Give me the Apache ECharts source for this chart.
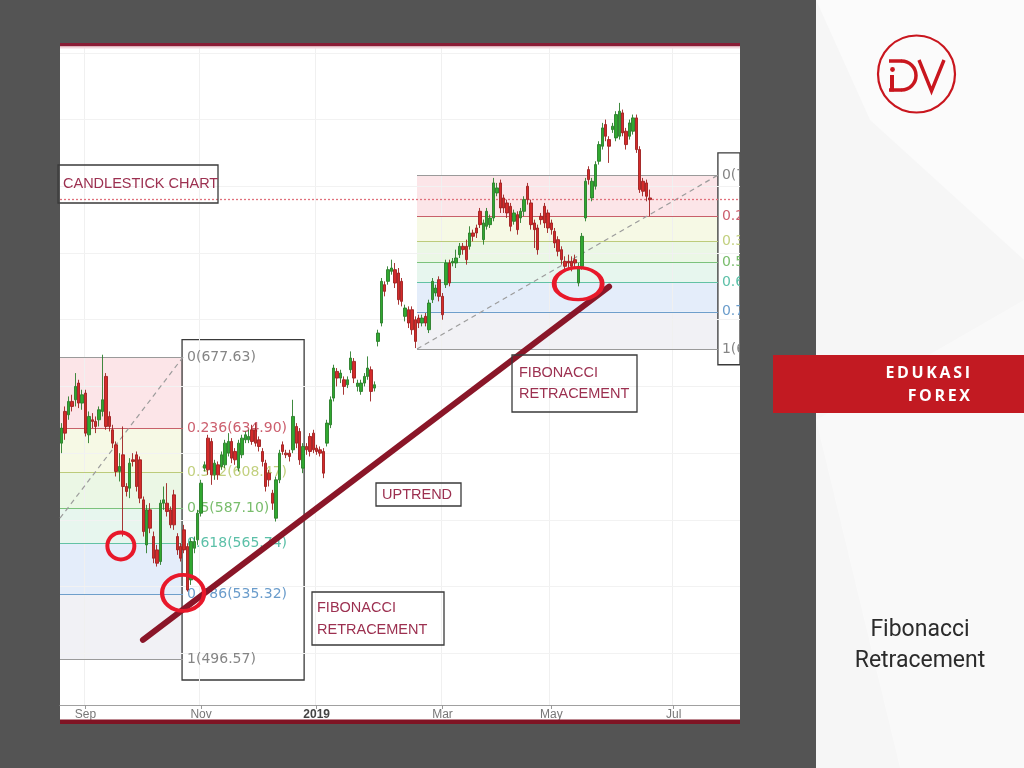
<!DOCTYPE html>
<html><head><meta charset="utf-8">
<script src="https://cdn.jsdelivr.net/npm/echarts@6/dist/echarts.min.js"></script>
<style>html,body{margin:0;padding:0;background:#545454}#c{width:1024px;height:768px}</style>
</head><body><div id="c"></div>
<script>
// ---- data ----
const monthLabels = ['Sep','Nov','2019','Mar','May','Jul'];
const monthIndex = [7, 41, 75, 112, 144, 180];
const slotCount = 200;

const candleOpen = [626,645,643,651,652,662,650,656,631,640,639,640,645,666,642,634,625,609,619,600,599,616,619,616,592,565,586,570,562,555,590,590,586,595,570,564,574,564,544,563,568,584,611,629,627,607,613,612,613,620,627,621,611,619,628,628,634,634,628,621,614,608,596,581,604,625,620,620,622,636,633,611,624,630,632,623,622,621,626,637,653,669,665,664,661,670,675,660,657,662,666,670,659,687,698,721,723,729,730,728,723,702,706,706,700,701,698,702,694,712,716,724,714,721,734,734,734,739,744,744,744,752,755,765,748,756,757,761,776,782,773,770,768,759,763,761,765,780,770,758,755,762,768,764,758,753,748,742,735,735,735,736,722,732,761,790,773,780,795,804,817,808,814,809,810,824,813,810,813,821,802,783,782,773];
const candleClose = [635,632,651,648,660,650,655,632,642,639,636,646,652,636,636,626,609,612,600,597,614,615,600,593,573,586,575,557,554,590,592,585,577,577,562,557,562,538,567,567,584,602,613,610,607,614,607,619,626,627,617,616,626,629,631,630,627,626,624,615,600,604,590,604,620,621,619,618,642,626,616,624,622,621,622,621,620,608,638,652,671,665,668,660,664,677,665,662,662,666,671,657,661,692,723,717,730,731,722,712,711,707,698,694,687,698,701,698,710,723,719,714,703,734,722,735,737,744,742,736,752,750,752,757,758,765,761,782,779,767,767,764,756,764,754,765,772,772,757,754,742,760,758,755,754,746,741,736,732,734,732,734,732,750,783,784,783,793,805,815,810,804,816,823,825,812,805,818,821,802,778,777,774,772];
const candleLow = [620,628,640,645,648,647,646,630,626,635,632,636,642,634,633,623,606,603,570,594,593,612,597,590,570,560,572,554,552,553,586,582,575,574,559,555,560,537,541,560,565,582,609,607,601,604,604,610,611,618,614,613,609,617,626,626,625,624,621,612,597,600,586,579,602,619,617,615,620,623,613,608,619,618,620,619,618,605,624,635,651,660,662,655,659,668,662,657,655,660,664,651,657,684,696,714,721,727,719,709,708,699,695,691,683,695,696,696,692,710,714,711,700,719,720,732,731,737,739,733,742,747,749,755,745,754,755,759,774,764,764,761,753,757,751,758,762,769,754,743,739,757,755,752,751,743,738,733,729,731,729,731,720,730,759,781,771,778,793,802,807,794,812,807,808,810,802,808,811,800,776,774,771,762];
const candleHigh = [638,648,654,655,668,664,658,658,645,644,642,648,679,668,645,637,627,620,636,602,617,620,621,618,594,589,590,573,565,592,600,602,588,598,572,566,577,566,569,570,586,604,615,631,629,616,615,621,628,632,629,623,628,631,633,634,637,638,630,623,616,610,598,606,622,627,622,622,652,638,635,626,626,632,634,625,624,623,640,654,673,671,670,666,666,681,677,664,664,668,678,672,663,694,725,723,732,736,734,731,725,709,708,708,702,703,703,704,712,725,721,726,716,736,736,737,742,746,746,748,756,754,757,767,760,767,763,785,782,784,775,772,770,766,765,767,774,782,772,760,757,764,770,766,760,755,750,744,738,739,738,739,734,752,785,792,785,795,807,818,820,810,818,825,830,826,815,820,823,823,804,785,784,778];

const fibRatios = ['0','0.236','0.382','0.5','0.618','0.786','1'];
const fib1Prices = [677.63,634.90,608.47,587.10,565.74,535.32,496.57];
const fib2Prices = [786.70,762.09,746.86,734.55,722.24,704.72,682.40];
const fib1Diagonal = [[-0.5, 581], [35.7, 677.63]];
const fib2Diagonal = [[104.5, 682.40], [193.0, 786.70]];
const trendLine = [[23.9, 508], [161.0, 719.8]];
const circlePoints = [[17.4, 564.4], [35.7, 536.2], [151.9, 721.6]];
const currentPrice = 772;
const gridPrices = [500,540,580,620,660,700,740,780,820,860];

// ---- styles ----
const fib1Span = [-0.5, 35.7];
const fib2Span = [104.5, 193.0];
const fibLineColors = ['#9a9a9a','#c8606a','#bccb7a','#7cc27c','#62c2a4','#6f9fcb','#9a9a9a'];
const fibLabelColors = ['#858585','#cc5f6e','#c2d07e','#79bd6c','#5cc0a8','#6a9ccb','#858585'];
const fibBandColors = ['rgba(245,170,180,0.30)','rgba(225,235,170,0.30)','rgba(190,230,170,0.30)','rgba(175,225,200,0.30)','rgba(170,200,240,0.32)','rgba(215,215,225,0.35)'];
const circleSizes = [[27,27],[42,36],[48,32]];

const categories = Array.from({length: slotCount}, (_, i) => 'b' + i);
const candles = candleOpen.map((o, i) => [o, candleClose[i], candleLow[i], candleHigh[i]]);
const isMonth = (i) => monthIndex.indexOf(i) >= 0;

function fibLines(prices, span) {
  return prices.map((p, k) => [
    { coord: [span[0], p], lineStyle: { color: fibLineColors[k], width: 1.2, type: 'solid' },
      label: { show: true, position: 'end', distance: 4, formatter: fibRatios[k] + '(' + p.toFixed(2) + ')',
               color: fibLabelColors[k], fontSize: 14, fontFamily: 'DejaVu Sans' } },
    { coord: [span[1], p] }
  ]);
}
function fibBands(prices, span) {
  return prices.slice(0, -1).map((p, k) => [
    { coord: [span[0], p], itemStyle: { color: fibBandColors[k] } },
    { coord: [span[1], prices[k + 1]] }
  ]);
}
const dashStyle = { color: '#9c9c9c', width: 1.2, type: [5, 4] };

const FONT = 'Liberation Sans';
function textBox(x, y, w, h, lines, tx, ty, lh) {
  const els = [{ type: 'rect', z: 50, shape: { x: x, y: y, width: w, height: h },
                 style: { fill: 'none', stroke: '#3a3a3a', lineWidth: 1.3 } }];
  lines.forEach((t, k) => els.push({ type: 'text', z: 51, x: tx, y: ty + k * lh,
    style: { text: t, fill: '#9c3050', font: '14.5px "' + FONT + '"', verticalAlign: 'middle', align: 'left' } }));
  return els;
}
const TS = '\u2009';
const RED = '#c9161e';

const chart = echarts.init(document.getElementById('c'), null, { renderer: 'canvas' });
chart.setOption({
  animation: false,
  backgroundColor: '#545454',
  grid: { left: 60, right: 284, top: 47, bottom: 63, show: false },
  xAxis: [
    { type: 'category', data: categories, boundaryGap: true, z: 3,
      axisLine: { lineStyle: { color: '#a0a0a0', width: 1 } },
      axisTick: { show: true, alignWithLabel: true, length: 4, interval: (i) => isMonth(i), lineStyle: { color: '#999' } },
      axisLabel: { interval: (i) => isMonth(i), margin: 4, fontSize: 12, color: '#777', fontFamily: FONT,
        formatter: (v, i) => { const k = monthIndex.indexOf(i); if (k < 0) return ''; return monthLabels[k] === '2019' ? '{b|2019}' : monthLabels[k]; },
        rich: { b: { fontWeight: 'bold', color: '#444', fontSize: 12, fontFamily: FONT } } },
      splitLine: { show: true, interval: (i) => isMonth(i), lineStyle: { color: '#f0f0f0', width: 1 } } },
    { type: 'value', min: -0.5, max: 199.5, show: false, splitLine: { show: false } }
  ],
  yAxis: { type: 'value', min: 469, max: 863.5, show: false, splitLine: { show: false } },
  series: [
    { type: 'line', xAxisIndex: 1, z: 1, data: [[-10, 0]], symbol: 'none', lineStyle: { opacity: 0 }, silent: true,
      markLine: { silent: true, symbol: ['none', 'none'], label: { show: false },
        lineStyle: { color: '#f2f2f2', width: 1, type: 'solid' },
        data: gridPrices.map(p => ({ yAxis: p })) } },
    { type: 'line', xAxisIndex: 1, z: 2, data: [[-10, 0]], symbol: 'none', lineStyle: { opacity: 0 }, silent: true,
      markArea: { silent: true, data: fibBands(fib1Prices, fib1Span).concat(fibBands(fib2Prices, fib2Span)) },
      markLine: { silent: true, symbol: ['none', 'none'],
        data: fibLines(fib1Prices, fib1Span).concat(fibLines(fib2Prices, fib2Span)).concat([
          [{ coord: fib1Diagonal[0], lineStyle: dashStyle, label: { show: false } }, { coord: fib1Diagonal[1] }],
          [{ coord: fib2Diagonal[0], lineStyle: dashStyle, label: { show: false } }, { coord: fib2Diagonal[1] }],
          { yAxis: currentPrice, lineStyle: { color: '#e0707c', width: 1.3, type: [2, 2] }, label: { show: false } }
        ]) } },
    { type: 'candlestick', xAxisIndex: 0, z: 5, data: candles, barWidth: 3,
      itemStyle: { color: '#30a830', color0: '#d42a2a', borderColor: '#2a7d2a', borderColor0: '#9e1f1f', borderWidth: 0.9 } },
    { type: 'line', xAxisIndex: 1, z: 6, data: [[-10, 0]], symbol: 'none', lineStyle: { opacity: 0 }, silent: true,
      markArea: { silent: true, itemStyle: { color: 'rgba(0,0,0,0)', borderColor: '#3a3a3a', borderWidth: 1.3 },
        data: [
          [{ coord: [35.4, 688] }, { coord: [71.3, 484] }],
          [{ coord: [193.0, 800] }, { coord: [199.5, 673] }]
        ] } },
    { type: 'line', xAxisIndex: 1, z: 8, data: trendLine, symbol: 'none', silent: true,
      lineStyle: { color: '#8a1628', width: 6, cap: 'round' } },
    { type: 'scatter', xAxisIndex: 1, z: 9, silent: true,
      data: circlePoints.map((c, k) => ({ value: c, symbolSize: circleSizes[k] })),
      itemStyle: { color: 'rgba(0,0,0,0)', borderColor: '#e8182a', borderWidth: 4, opacity: 1 } }
  ],
  graphic: { elements: [
    { type: 'rect', z: -10, shape: { x: 60, y: 43, width: 680, height: 681 }, style: { fill: '#ffffff' } },
    ...textBox(58, 165, 160, 38, ['CANDLESTICK CHART'], 63, 184, 0),
    ...textBox(312, 592, 132, 53, ['FIBONACCI', 'RETRACEMENT'], 317, 608, 22),
    ...textBox(376, 483, 85, 23, ['UPTREND'], 382, 495, 0),
    ...textBox(512, 355, 125, 57, ['FIBONACCI', 'RETRACEMENT'], 519, 373, 21),
    { type: 'rect', z: 100, shape: { x: 60, y: 43, width: 680, height: 3.5 }, style: { fill: '#8a1c35' } },
    { type: 'rect', z: 100, shape: { x: 60, y: 46.5, width: 680, height: 2 }, style: { fill: '#f5d6dd' } },
    { type: 'rect', z: 100, shape: { x: 60, y: 719.5, width: 680, height: 4.5 }, style: { fill: '#7f1424' } },
    { type: 'rect', z: 100, shape: { x: 740, y: 0, width: 76, height: 768 }, style: { fill: '#545454' } },
    { type: 'rect', z: 100, shape: { x: 816, y: 0, width: 208, height: 768 }, style: { fill: '#f6f6f6' } },
    { type: 'polygon', z: 101, shape: { points: [[816,0],[1024,0],[1024,260],[870,120]] }, style: { fill: 'rgba(255,255,255,0.5)' } },
    { type: 'polygon', z: 101, shape: { points: [[816,420],[1024,300],[1024,768],[900,768]] }, style: { fill: 'rgba(255,255,255,0.4)' } },
    { type: 'circle', z: 102, shape: { cx: 916.5, cy: 74, r: 38.5 }, style: { fill: 'none', stroke: RED, lineWidth: 2.2 } },
    { type: 'line', z: 102, shape: { x1: 889, y1: 61, x2: 902, y2: 61 }, style: { stroke: RED, lineWidth: 3.5 } },
    { type: 'line', z: 102, shape: { x1: 889, y1: 90, x2: 902, y2: 90 }, style: { stroke: RED, lineWidth: 3.5 } },
    { type: 'arc', z: 102, shape: { cx: 901.5, cy: 75.5, r: 14.5, startAngle: -Math.PI / 2, endAngle: Math.PI / 2, clockwise: true }, style: { fill: 'none', stroke: RED, lineWidth: 3.5 } },
    { type: 'line', z: 102, shape: { x1: 892, y1: 75, x2: 892, y2: 91.5 }, style: { stroke: RED, lineWidth: 4 } },
    { type: 'circle', z: 102, shape: { cx: 892.5, cy: 69.5, r: 2.4 }, style: { fill: RED } },
    { type: 'polyline', z: 102, shape: { points: [[919,60],[931.5,91],[944,60]] }, style: { fill: 'none', stroke: RED, lineWidth: 3.4 } },
    { type: 'rect', z: 102, shape: { x: 773, y: 355, width: 251, height: 58 }, style: { fill: '#c21a22' } },
    { type: 'text', z: 103, x: 970, y: 373, style: { text: ['E','D','U','K','A','S','I'].join(TS), fill: '#ffffff', font: 'bold 16px "Open Sans"', align: 'right', verticalAlign: 'middle' } },
    { type: 'text', z: 103, x: 970, y: 396, style: { text: ['F','O','R','E','X'].join(TS), fill: '#ffffff', font: 'bold 16px "Open Sans"', align: 'right', verticalAlign: 'middle' } },
    { type: 'text', z: 103, x: 920, y: 630, style: { text: 'Fibonacci', fill: '#2b2b2b', font: '23px Roboto', align: 'center', verticalAlign: 'middle' } },
    { type: 'text', z: 103, x: 920, y: 661, style: { text: 'Retracement', fill: '#2b2b2b', font: '23px Roboto', align: 'center', verticalAlign: 'middle' } }
  ] }
});
</script>
</body></html>
